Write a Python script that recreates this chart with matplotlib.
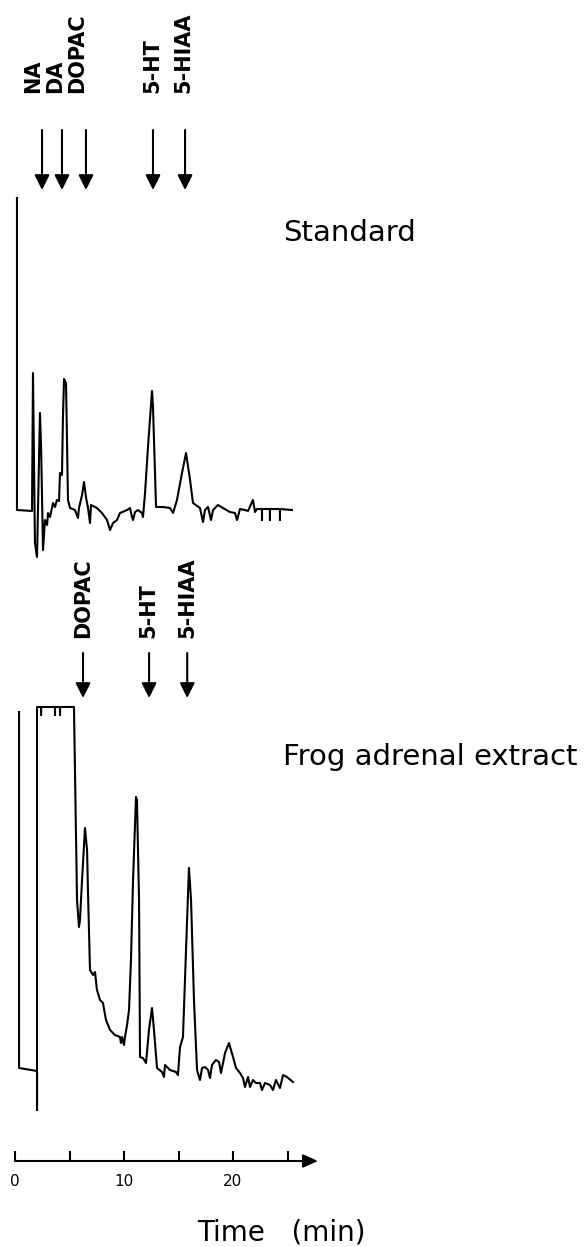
import matplotlib
matplotlib.use("Agg")
import matplotlib.pyplot as plt
import matplotlib.transforms as mtransforms

# --- chromatogram data (time in min, detector signal in arbitrary units) ---
std_time = [0.18, 0.18, 1.56, 1.65, 1.83, 2.02, 2.29, 2.40, 2.57, 2.75, 2.94, 3.03, 3.21, 3.49,
            3.67, 3.85, 4.04, 4.13, 4.31, 4.40, 4.50, 4.68, 4.77, 4.86, 5.05, 5.50, 5.78, 5.87,
            6.15, 6.33, 6.51, 6.70, 6.88, 6.97, 7.52, 7.98, 8.44, 8.72, 8.99, 9.36, 9.63, 10.28,
            10.55, 10.73, 10.83, 11.01, 11.28, 11.65, 11.74, 11.93, 12.20, 12.57, 12.66, 12.94,
            13.58, 14.22, 14.50, 14.86, 15.32, 15.69, 16.06, 16.33, 16.97, 17.25, 17.43, 17.71,
            17.98, 18.17, 18.62, 19.08, 19.72, 20.18, 20.37, 20.64, 21.10, 21.38, 21.83, 22.02,
            22.20, 22.66, 22.66, 22.66, 23.39, 23.39, 23.39, 24.31, 24.31, 24.31, 25.41]
std_signal = [312, 0, -1, 137, -33, -47, 97, 60, -40, -10, -15, -3, -7, 7,
              3, 10, 9, 37, 35, 93, 131, 127, 70, 10, 2, 0, -8, 2,
              15, 28, 13, 2, -13, 5, 2, -3, -10, -20, -13, -10, -3, 0,
              2, -7, -10, -2, 0, -3, -7, 17, 63, 119, 103, 3,
              3, 2, -3, 10, 37, 57, 30, 7, 2, -12, 0, 3,
              -10, 0, 5, 2, -2, -3, -10, 1, 0, -1, 10, -2,
              1, 1, -10, 1, 1, -10, 1, 1, -10, 1, 0]

frog_time = [0.37, 0.37, 2.02, 2.02, 2.02, 2.39, 2.39, 2.39, 3.67, 3.67, 3.67, 4.13, 4.13, 4.13,
             5.41, 5.69, 5.87, 5.96, 6.15, 6.42, 6.61, 6.70, 6.88, 7.16, 7.34, 7.52, 7.80, 8.07,
             8.35, 8.72, 9.17, 9.63, 9.72, 9.82, 10.00, 10.09, 10.28, 10.46, 10.64, 10.83, 11.10,
             11.19, 11.38, 11.47, 11.74, 12.02, 12.29, 12.57, 12.75, 13.03, 13.49, 13.67, 13.76,
             14.22, 14.77, 14.95, 15.14, 15.41, 15.69, 15.96, 16.15, 16.42, 16.70, 16.97, 17.16,
             17.43, 17.71, 17.89, 18.07, 18.44, 18.72, 18.90, 19.27, 19.63, 20.00, 20.28, 20.64,
             20.92, 21.10, 21.38, 21.56, 21.83, 22.11, 22.48, 22.66, 22.94, 23.39, 23.67, 23.94,
             24.31, 24.59, 24.95, 25.50]
frog_signal = [358, 2, -1, -40, 363, 363, 355, 363, 363, 355, 363, 363, 355, 363,
               363, 170, 143, 150, 190, 242, 220, 177, 100, 95, 98, 80, 70, 67,
               50, 40, 35, 33, 27, 33, 25, 33, 45, 60, 110, 190, 273,
               270, 170, 13, 12, 7, 40, 62, 40, 2, -2, -7, 5,
               0, -2, -5, 23, 33, 120, 202, 170, 70, 0, -10, 2,
               3, 0, -8, 5, 10, 8, -3, 17, 27, 13, 2, -3,
               -8, -17, -7, -17, -10, -13, -13, -20, -13, -15, -20, -10,
               -18, -5, -7, -12]

std_peaks = ["NA", "DA", "DOPAC", "5-HT", "5-HIAA"]
std_arrow_time = [2.48, 4.31, 6.51, 12.66, 15.60]
std_label_time = [1.65, 3.67, 5.69, 12.57, 15.41]

frog_peaks = ["DOPAC", "5-HT", "5-HIAA"]
frog_arrow_time = [6.24, 12.30, 15.80]
frog_label_time = [6.24, 12.20, 15.80]

time_major = [0, 10, 20]
time_minor = [5, 15, 25]

# --- layout (figure pixels) ---
W, H = 586, 1247
PX_PER_MIN = 10.9
ORIGIN_PX = 15
XLIM = (-ORIGIN_PX / PX_PER_MIN, (W - ORIGIN_PX) / PX_PER_MIN)
LW = 1.5

fig = plt.figure(figsize=(W / 100, H / 100), dpi=100)
plt.rcParams['font.family'] = ['DejaVu Sans']


def fy(px):
    return 1 - px / H


def axes_between(top_px, bottom_px):
    ax = fig.add_axes([0, 1 - bottom_px / H, 1, (bottom_px - top_px) / H])
    ax.set_xlim(XLIM)
    return ax


arrow_props = dict(arrowstyle='-|>,head_length=0.9,head_width=0.45', lw=LW,
                   color='black', shrinkA=0, shrinkB=0)


def mark_peaks(ax, names, arrow_t, label_t, label_bottom, arrow_top, arrow_tip):
    trans = mtransforms.blended_transform_factory(ax.transData, fig.transFigure)
    for name, ta, tl in zip(names, arrow_t, label_t):
        ax.annotate('', xy=(ta, fy(arrow_tip)), xytext=(ta, fy(arrow_top)),
                    xycoords=trans, textcoords=trans, arrowprops=arrow_props,
                    annotation_clip=False)
        ax.text(tl, fy(label_bottom), name, transform=trans, rotation=90,
                rotation_mode='anchor', ha='left', va='center',
                fontsize=15, fontweight='bold')
    return trans


# Standard
ax_std = axes_between(190, 570)
ax_std.set_ylim(-60, 320)
ax_std.plot(std_time, std_signal, color='black', lw=LW, clip_on=False)
ax_std.axis('off')
trans = mark_peaks(ax_std, std_peaks, std_arrow_time, std_label_time, 93, 130, 190)
ax_std.text(24.6, fy(233), 'Standard', transform=trans, fontsize=21, va='center')

# Frog adrenal extract
ax_frog = axes_between(700, 1120)
ax_frog.set_ylim(-50, 370)
ax_frog.plot(frog_time, frog_signal, color='black', lw=LW, clip_on=False)
ax_frog.axis('off')
trans = mark_peaks(ax_frog, frog_peaks, frog_arrow_time, frog_label_time, 638, 653, 698)
ax_frog.text(24.6, fy(757), 'Frog adrenal extract', transform=trans, fontsize=21, va='center')

# time axis
ax_t = axes_between(1130, 1161)
ax_t.set_ylim(0, 1)
for s in ax_t.spines.values():
    s.set_visible(False)
ax_t.set_yticks([])
ax_t.set_xticks(time_major)
ax_t.set_xticks(time_minor, minor=True)
ax_t.tick_params(axis='x', which='both', direction='in', length=7.5, width=LW,
                 pad=9)
for lab in ax_t.get_xticklabels():
    lab.set_fontsize(11)
ax_t.annotate('', xy=(27.8, 0), xytext=(0, 0), arrowprops=dict(
    arrowstyle='-|>,head_length=0.9,head_width=0.4', lw=LW, color='black',
    shrinkA=0, shrinkB=0), annotation_clip=False)
trans = mtransforms.blended_transform_factory(ax_t.transData, fig.transFigure)
ax_t.text(16.7, fy(1232), 'Time   (min)', transform=trans, fontsize=20, va='center')

fig.savefig('out.png', dpi=100)
